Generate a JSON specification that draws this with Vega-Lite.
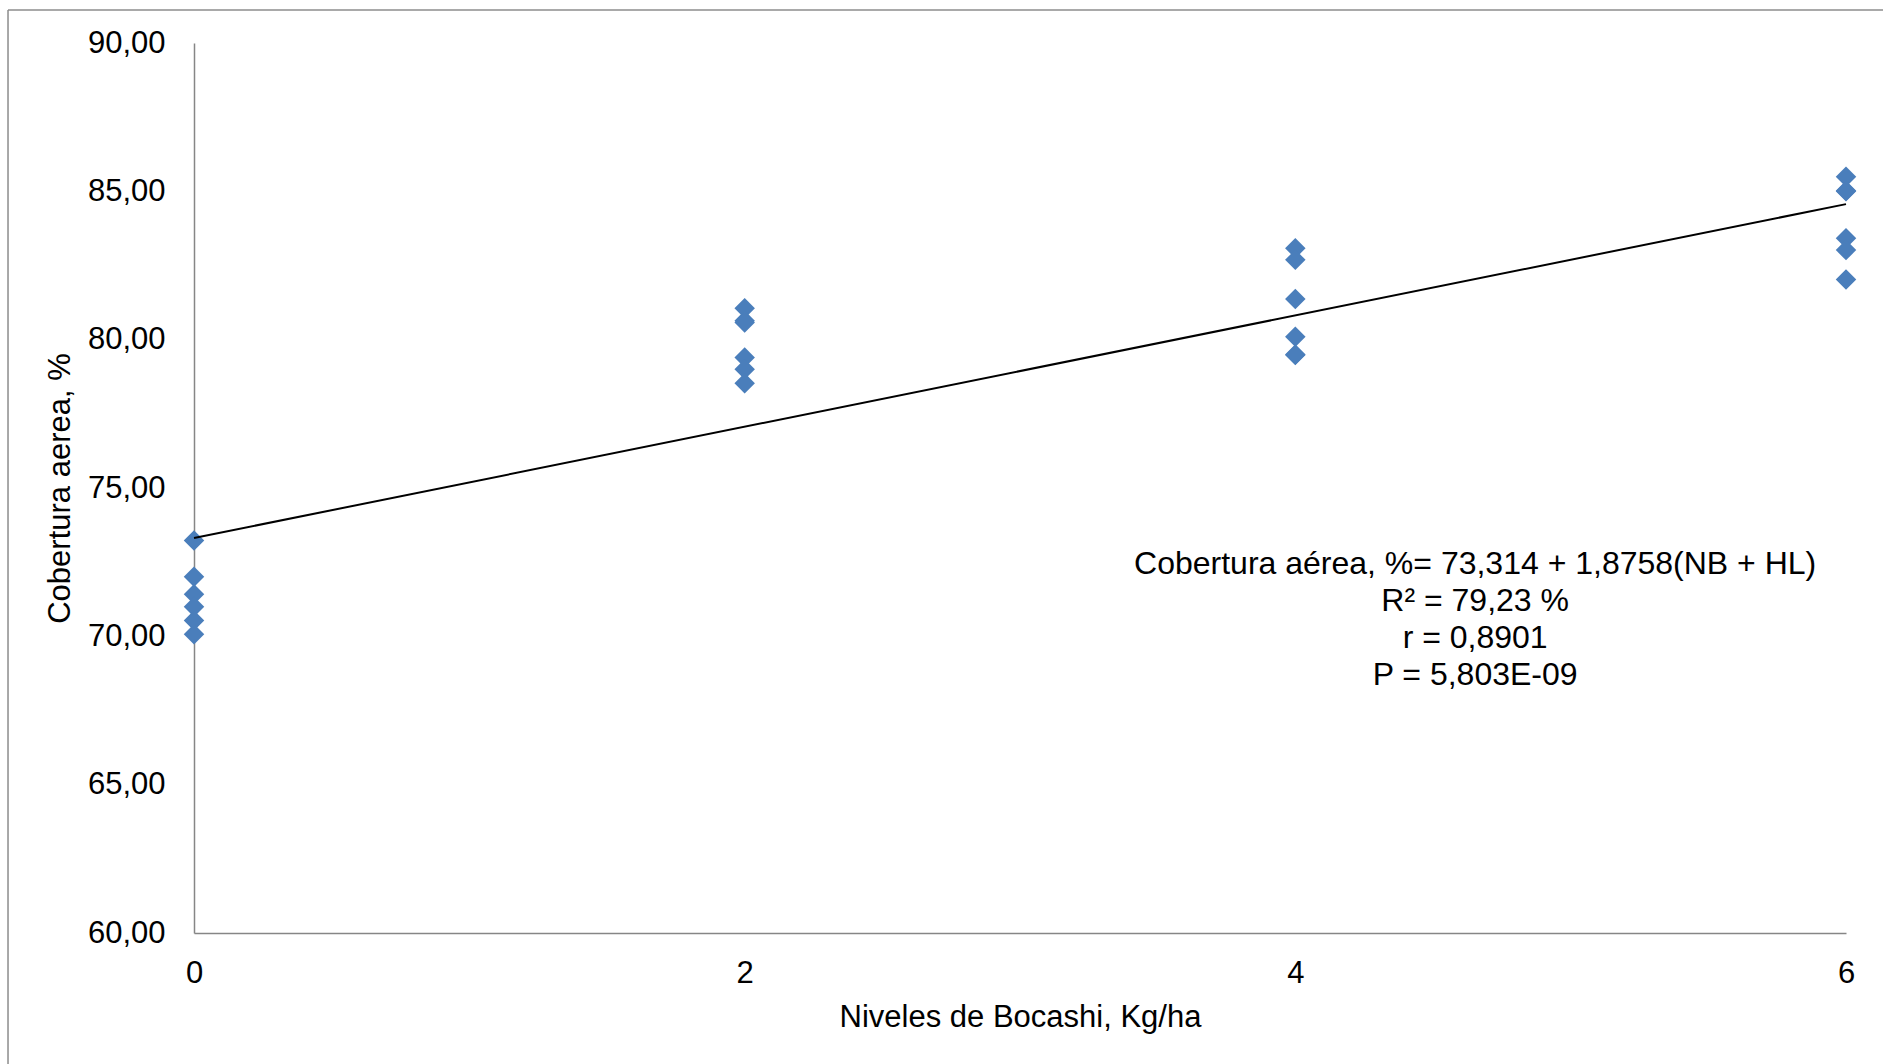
{
  "$schema": "https://vega.github.io/schema/vega-lite/v6.json",
  "width": 1652,
  "height": 890,
  "autosize": {"type": "none"},
  "padding": {"left": 194, "top": 43, "right": 37, "bottom": 131},
  "background": "white",
  "config": {
    "view": {"stroke": null},
    "font": "Liberation Sans",
    "axis": {
      "domainColor": "#868686",
      "domainWidth": 1.5,
      "ticks": false,
      "grid": false,
      "labelFlush": false,
      "labelFont": "Liberation Sans",
      "labelFontSize": 31,
      "labelColor": "#000000",
      "titleFont": "Liberation Sans",
      "titleFontSize": 31,
      "titleFontWeight": "normal",
      "titleColor": "#000000"
    }
  },
  "datasets": {
    "points": [
      {"nivel": 0, "cobertura": 73.23},
      {"nivel": 0, "cobertura": 72.01},
      {"nivel": 0, "cobertura": 71.42},
      {"nivel": 0, "cobertura": 71.0},
      {"nivel": 0, "cobertura": 70.53},
      {"nivel": 0, "cobertura": 70.07},
      {"nivel": 2, "cobertura": 81.06},
      {"nivel": 2, "cobertura": 80.64},
      {"nivel": 2, "cobertura": 80.58},
      {"nivel": 2, "cobertura": 79.4},
      {"nivel": 2, "cobertura": 79.0},
      {"nivel": 2, "cobertura": 78.53},
      {"nivel": 4, "cobertura": 83.08},
      {"nivel": 4, "cobertura": 82.69},
      {"nivel": 4, "cobertura": 81.37},
      {"nivel": 4, "cobertura": 80.1},
      {"nivel": 4, "cobertura": 79.48},
      {"nivel": 4, "cobertura": 79.5},
      {"nivel": 6, "cobertura": 85.49},
      {"nivel": 6, "cobertura": 85.02},
      {"nivel": 6, "cobertura": 83.42},
      {"nivel": 6, "cobertura": 83.02},
      {"nivel": 6, "cobertura": 82.03},
      {"nivel": 6, "cobertura": 85.0}
    ],
    "trend": [
      {"nivel": 0, "cobertura": 73.314},
      {"nivel": 6, "cobertura": 84.5688}
    ],
    "one": [{"id": 1}]
  },
  "layer": [
    {
      "data": {"name": "points"},
      "mark": {"type": "point", "shape": "diamond", "filled": true, "size": 420, "color": "#4A7EBB", "opacity": 1, "strokeWidth": 0},
      "encoding": {
        "x": {
          "field": "nivel", "type": "quantitative",
          "scale": {"domain": [0, 6], "nice": false, "zero": false},
          "axis": {"values": [0, 2, 4, 6], "format": "d", "labelPadding": 25, "title": "Niveles de Bocashi, Kg/ha", "titlePadding": 14}
        },
        "y": {
          "field": "cobertura", "type": "quantitative",
          "scale": {"domain": [60, 90], "nice": false, "zero": false},
          "axis": {"values": [60, 65, 70, 75, 80, 85, 90], "labelExpr": "replace(format(datum.value, '.2f'), '.', ',')", "labelPadding": 29, "title": "Cobertura aerea, %", "titlePadding": 11}
        }
      }
    },
    {
      "data": {"name": "trend"},
      "mark": {"type": "line", "color": "#000000", "strokeWidth": 2},
      "encoding": {
        "x": {"field": "nivel", "type": "quantitative", "scale": {"domain": [0, 6], "nice": false, "zero": false}, "title": "Niveles de Bocashi, Kg/ha"},
        "y": {"field": "cobertura", "type": "quantitative", "scale": {"domain": [60, 90], "nice": false, "zero": false}, "title": "Cobertura aerea, %"}
      }
    },
    {
      "data": {"name": "one"},
      "mark": {"type": "rule", "color": "#8C8C8C", "strokeWidth": 1.5, "clip": false},
      "encoding": {
        "x": {"datum": -0.6755, "type": "quantitative", "scale": {"domain": [0, 6], "nice": false, "zero": false}},
        "y": {"datum": 91.11, "type": "quantitative", "scale": {"domain": [60, 90], "nice": false, "zero": false}},
        "y2": {"datum": 50}
      }
    },
    {
      "data": {"name": "one"},
      "mark": {"type": "rule", "color": "#8C8C8C", "strokeWidth": 1.5, "clip": false},
      "encoding": {
        "x": {"datum": -0.6755, "type": "quantitative", "scale": {"domain": [0, 6], "nice": false, "zero": false}},
        "x2": {"datum": 7},
        "y": {"datum": 91.11, "type": "quantitative", "scale": {"domain": [60, 90], "nice": false, "zero": false}}
      }
    },
    {
      "data": {"name": "one"},
      "mark": {"type": "text", "align": "center", "baseline": "middle", "fontSize": 32, "lineHeight": 37, "color": "#000000", "font": "Liberation Sans"},
      "encoding": {
        "x": {"datum": 4.653, "type": "quantitative", "scale": {"domain": [0, 6], "nice": false, "zero": false}},
        "y": {"datum": 72.45, "type": "quantitative", "scale": {"domain": [60, 90], "nice": false, "zero": false}},
        "text": {"value": ["Cobertura aérea, %= 73,314 + 1,8758(NB + HL)", "R² = 79,23 %", "r = 0,8901", "P = 5,803E-09"]}
      }
    }
  ]
}
